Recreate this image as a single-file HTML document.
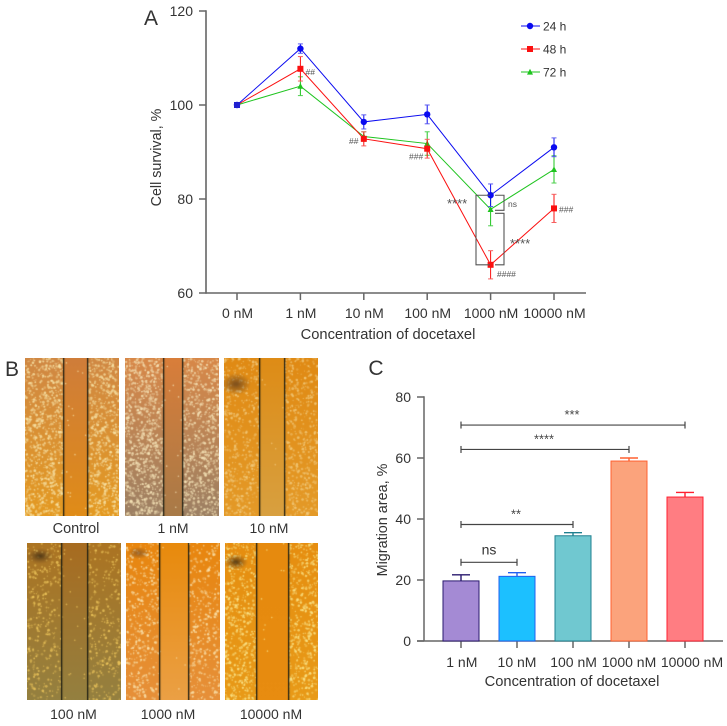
<!DOCTYPE html>
<html>
<head>
<meta charset="utf-8">
<title>Docetaxel cell survival and migration</title>
<style>
html,body{margin:0;padding:0;background:#fff;width:727px;height:726px;overflow:hidden}
#wrap{position:relative;width:727px;height:726px}
svg{position:absolute;left:0;top:0}
canvas{position:absolute}
text{font-family:"Liberation Sans",sans-serif;fill:#333}
</style>
</head>
<body>
<div id="wrap">
<svg id="chart" width="727" height="726" viewBox="0 0 727 726"></svg>
</div>
<script>
// Panel A data
const doseLabelsA = ['0 nM','1 nM','10 nM','100 nM','1000 nM','10000 nM'];
const survivalTicks = [60,80,100,120];
const series24h = [100,112,96.4,98,80.8,91];
const errors24h = [0,1,1.5,2,2.4,2];
const series48h = [100,107.7,92.8,90.7,66,78];
const errors48h = [0,2.6,1.5,2,3,3];
const series72h = [100,104,93.3,91.8,77.8,86.3];
const errors72h = [0,2,1,2.5,3.5,2.9];
const seriesNamesA = ['24 h','48 h','72 h'];
// Panel C data
const doseLabelsC = ['1 nM','10 nM','100 nM','1000 nM','10000 nM'];
const migrationValues = [19.7,21.2,34.5,59,47.2];
const migrationErrors = [2,1.2,1,1,1.5];
const migrationTicks = [0,20,40,60,80];
const sigLabelsC = ['ns','**','****','***'];
const sigLevelsC = [25.8,38.2,62.8,70.8];
const sigEndIndexC = [1,2,3,4];

const NS='http://www.w3.org/2000/svg';
const svg=document.getElementById('chart');
function el(tag,attrs,name,inter){
  const e=document.createElementNS(NS,tag);
  for(const k in attrs)e.setAttribute(k,attrs[k]);
  
  
  svg.appendChild(e);
  return e;
}
function line(x1,y1,x2,y2,stroke,w,name){
  return el('line',{x1:x1,y1:y1,x2:x2,y2:y2,stroke:stroke,'stroke-width':w},name,false);
}
function txt(x,y,s,size,anchor,name,extra){
  const a={x:x,y:y,'font-size':size,'text-anchor':anchor||'middle'};
  if(extra)for(const k in extra)a[k]=extra[k];
  const t=el('text',a,name,false);
  t.textContent=s;
  return t;
}
const AX='#666';
const TXT=14;
const TITLE=14.7;

// ---------- Panel A ----------
function xA(i){return 237+i*63.4;}
function yA(v){return 293-(v-60)*4.7;}
txt(151,25,'A',21,'middle','panel-a-label');
line(206,yA(120)-0.7,206,yA(60)+0.7,AX,1.6,'survival-y-axis');
line(206,yA(60),586,yA(60),AX,1.6,'survival-x-axis');
survivalTicks.forEach(v=>{
  line(199,yA(v),206,yA(v),AX,1.5,'survival-y-tick');
  txt(193,yA(v)+5,String(v),TXT,'end','survival-y-tick-label');
});
doseLabelsA.forEach((d,i)=>{
  line(xA(i),293,xA(i),300,AX,1.5,'survival-x-tick');
  txt(xA(i)+0.5,318,d,TXT,'middle','survival-x-tick-label');
});
txt(388,339,'Concentration of docetaxel',TITLE,'middle','survival-x-axis-title');
txt(0,0,'Cell survival, %',14.3,'middle','survival-y-axis-title',{transform:'translate(161,157.5) rotate(-90)'});

function marker(kind,x,y,c,name){
  if(kind==='circle')return el('circle',{cx:x,cy:y,r:3.2,fill:c},name,false);
  if(kind==='square')return el('rect',{x:x-3,y:y-3,width:6,height:6,fill:c},name,false);
  return el('polygon',{points:(x-3)+','+(y+2.6)+' '+x+','+(y-3.2)+' '+(x+3)+','+(y+2.6),fill:c},name,false);
}
function drawSeries(vals,errs,color,errColor,kind,id){
  const pts=vals.map((v,i)=>xA(i)+','+yA(v)).join(' ');
  vals.forEach((v,i)=>{
    if(!errs[i])return;
    line(xA(i),yA(v-errs[i]),xA(i),yA(v+errs[i]),color,1,id+'-error-bar');
    line(xA(i)-2.5,yA(v+errs[i]),xA(i)+2.5,yA(v+errs[i]),errColor,1,id+'-error-cap');
    line(xA(i)-2.5,yA(v-errs[i]),xA(i)+2.5,yA(v-errs[i]),errColor,1,id+'-error-cap');
  });
  el('polyline',{points:pts,fill:'none',stroke:color,'stroke-width':1},id+'-line',false);
  vals.forEach((v,i)=>marker(kind,xA(i),yA(v),color,id+'-point'));
}
drawSeries(series72h,errors72h,'#1fc41f','#4fd04f','triangle','series-72h');
drawSeries(series48h,errors48h,'#fb1010','#f56060','square','series-48h');
drawSeries(series24h,errors24h,'#0a0af0','#5a5af0','circle','series-24h');
marker('square',xA(0),yA(100),'#2020d0','series-overlap-point');

const legendColors=['#0a0af0','#fb1010','#1fc41f'];
const legendKinds=['circle','square','triangle'];
seriesNamesA.forEach((n,i)=>{
  const y=26+i*23;
  line(521,y,540,y,legendColors[i],1,'legend-line');
  marker(legendKinds[i],530,y,legendColors[i],'legend-marker');
  txt(543,y+4.5,n,12,'start','legend-entry');
});

// significance annotations in panel A
const ANN='#555';
function ann(x,y,s,size,name){txt(x,y,s,size,'start',name,{style:'fill:'+ANN});}
ann(305.5,yA(series48h[1])+6,'##',8.5,'hash-1nm');
ann(349,yA(series48h[2])+5,'##',8.5,'hash-10nm');
ann(409,yA(series48h[3])+11,'###',8.5,'hash-100nm');
ann(497,yA(series48h[4])+12,'####',8.5,'hash-1000nm');
ann(559,yA(series48h[5])+4,'###',8.5,'hash-10000nm');
ann(447,208,'****',13,'stars-24h-48h');
ann(510,248,'****',13,'stars-72h-48h');
ann(508,207,'ns',8.5,'ns-24h-72h');
el('polyline',{points:'490,'+yA(series24h[4])+' 476,'+yA(series24h[4])+' 476,'+yA(series48h[4])+' 490,'+yA(series48h[4]),fill:'none',stroke:'#555','stroke-width':1.1},'bracket-24h-48h',false);
el('polyline',{points:'495,'+yA(series24h[4])+' 504,'+yA(series24h[4])+' 504,'+(yA(series72h[4])+1)+' 495,'+(yA(series72h[4])+1),fill:'none',stroke:'#555','stroke-width':1.1},'bracket-24h-72h',false);
el('polyline',{points:'495,'+(yA(series72h[4])+4)+' 504,'+(yA(series72h[4])+4)+' 504,'+yA(series48h[4])+' 495,'+yA(series48h[4]),fill:'none',stroke:'#555','stroke-width':1.1},'bracket-72h-48h',false);

// ---------- Panel C ----------
function xC(i){return 461+i*56;}
function yC(v){return 641-v*3.05;}
txt(376,375,'C',21,'middle','panel-c-label');
line(424,yC(80)-0.7,424,641,AX,1.5,'migration-y-axis');
line(417,641,723,641,AX,1.5,'migration-x-axis');
migrationTicks.forEach(v=>{
  line(417,yC(v),424,yC(v),AX,1.5,'migration-y-tick');
  txt(411,yC(v)+5,String(v),TXT,'end','migration-y-tick-label');
});
const barFill=['#a48ad4','#1cc0ff','#70c8d0','#fba37c','#ff7d82'];
const barStroke=['#2a1a6e','#2060f0','#1f8090','#ff6030','#ff2030'];
const labelShiftC=[0.8,0,0.6,0,7];
doseLabelsC.forEach((d,i)=>{
  line(xC(i),641,xC(i),648,AX,1.5,'migration-x-tick');
  txt(xC(i)+labelShiftC[i],667,d,TXT,'middle','migration-x-tick-label');
  const v=migrationValues[i],e=migrationErrors[i];
  line(xC(i),yC(v),xC(i),yC(v+e),barStroke[i],1.4,'migration-error-bar');
  line(xC(i)-9,yC(v+e),xC(i)+9,yC(v+e),barStroke[i],1.4,'migration-error-cap');
  el('rect',{x:xC(i)-18,y:yC(v),width:36,height:641-yC(v),fill:barFill[i],stroke:barStroke[i],'stroke-width':1},'migration-bar-'+d.replace(' ','-').toLowerCase(),false);
});
txt(572,686,'Concentration of docetaxel',TITLE,'middle','migration-x-axis-title');
txt(0,0,'Migration area, %',14.4,'middle','migration-y-axis-title',{transform:'translate(387,520) rotate(-90)'});
sigLabelsC.forEach((s,i)=>{
  const y=yC(sigLevelsC[i]),x1=xC(0),x2=xC(sigEndIndexC[i]);
  line(x1,y,x2,y,'#444',1.2,'sig-bracket-line');
  line(x1,y-3.5,x1,y+3.5,'#444',1.2,'sig-bracket-cap');
  line(x2,y-3.5,x2,y+3.5,'#444',1.2,'sig-bracket-cap');
  if(s==='ns')txt((x1+x2)/2,y-8,s,14,'middle','sig-label');
  else txt((x1+x2)/2-1,y-6,s,12.8,'middle','sig-label',{style:'fill:#444'});
});

// ---------- Panel B: wound-healing micrographs ----------
txt(12,376,'B',21,'middle','panel-b-label');
const panels=[
 {n:'control',l:'Control',fs:14.5,lx:76,ly:533,x:25,y:358,w:94,h:158,a:63,b:87,top:'#d08844',bot:'#e49a22',gapT:'#cf7d3a',gapB:'#e08c18',sp:'#f8e4a8',d:1900,gd:18},
 {n:'1-nm',l:'1 nM',fs:14,lx:173,ly:533,x:125,y:358,w:94,h:158,a:163,b:182,top:'#d88848',bot:'#9c8064',gapT:'#d97e3a',gapB:'#a87a48',sp:'#f6e4b8',d:2000,gd:14},
 {n:'10-nm',l:'10 nM',fs:14,lx:269,ly:533,x:224,y:358,w:94,h:158,a:259,b:284,top:'#e08a14',bot:'#e49a28',gapT:'#de8c16',gapB:'#d8a040',sp:'#f2cc80',d:1300,gd:6,blot:[236,384,15,11,'rgba(110,70,30,0.8)']},
 {n:'100-nm',l:'100 nM',fs:14,lx:73.5,ly:719,x:27,y:543,w:94,h:157,a:61,b:87,top:'#ac7422',bot:'#948040',gapT:'#a86c20',gapB:'#948040',sp:'#f0c85c',d:850,gd:20,blot:[40,556,14,8,'rgba(70,50,20,0.8)']},
 {n:'1000-nm',l:'1000 nM',fs:14,lx:168,ly:719,x:125.5,y:543,w:94,h:157,a:158,b:187,top:'#e8860e',bot:'#e6903a',gapT:'#e88a0c',gapB:'#eba045',sp:'#fae2ac',d:1100,gd:5,blot:[138,553,11,6,'rgba(130,85,40,0.7)']},
 {n:'10000-nm',l:'10000 nM',fs:14,lx:271,ly:719,x:225,y:543,w:93,h:157,a:256,b:288,top:'#e68e10',bot:'#e89a18',gapT:'#e68a0e',gapB:'#e88c10',sp:'#fbe88e',d:1500,gd:10,blot:[236,562,12,8,'rgba(70,50,20,0.8)']}
];
let seed=12345;
function rnd(){seed=(seed*16807)%2147483647;return seed/2147483647;}
const wrap=document.getElementById('wrap');
panels.forEach(p=>{
  const c=document.createElement('canvas');
  c.width=Math.round(p.w);c.height=p.h;
  c.style.left=p.x+'px';c.style.top=p.y+'px';
  
  
  wrap.appendChild(c);
  const g=c.getContext('2d');
  const base=g.createLinearGradient(0,0,0,p.h);
  base.addColorStop(0,p.top);base.addColorStop(1,p.bot);
  g.fillStyle=base;g.fillRect(0,0,p.w,p.h);
  const la=Math.round(p.a-p.x),lb=Math.round(p.b-p.x);
  for(let i=0;i<p.d;i++){
    const x=rnd()*p.w,y=rnd()*p.h;
    if(x>la&&x<lb)continue;
    g.fillStyle=p.sp;
    g.globalAlpha=0.3+rnd()*0.55;
    g.beginPath();g.arc(x,y,0.5+rnd()*0.9,0,6.3);g.fill();
  }
  g.globalAlpha=1;
  if(p.blot){
    g.save();
    g.translate(p.blot[0]-p.x,p.blot[1]-p.y);
    g.scale(p.blot[2],p.blot[3]);
    const rg=g.createRadialGradient(0,0,0.1,0,0,1);
    rg.addColorStop(0,p.blot[4]);rg.addColorStop(1,'rgba(110,70,30,0)');
    g.fillStyle=rg;
    g.beginPath();g.arc(0,0,1,0,6.3);g.fill();
    g.restore();
  }
  const gap=g.createLinearGradient(0,0,0,p.h);
  gap.addColorStop(0,p.gapT);gap.addColorStop(1,p.gapB);
  g.fillStyle=gap;g.fillRect(la,0,lb-la,p.h);
  for(let i=0;i<p.gd;i++){
    g.fillStyle=p.sp;g.globalAlpha=0.7;
    g.beginPath();g.arc(la+rnd()*(lb-la),rnd()*p.h,0.8,0,6.3);g.fill();
  }
  g.globalAlpha=1;
  g.fillStyle='#1e1e12';
  g.fillRect(la,0,1.3,p.h);
  g.fillRect(lb,0,1.3,p.h);
  txt(p.lx,p.ly,p.l,p.fs,'middle','micrograph-label-'+p.n);
});
</script>
</body>
</html>
